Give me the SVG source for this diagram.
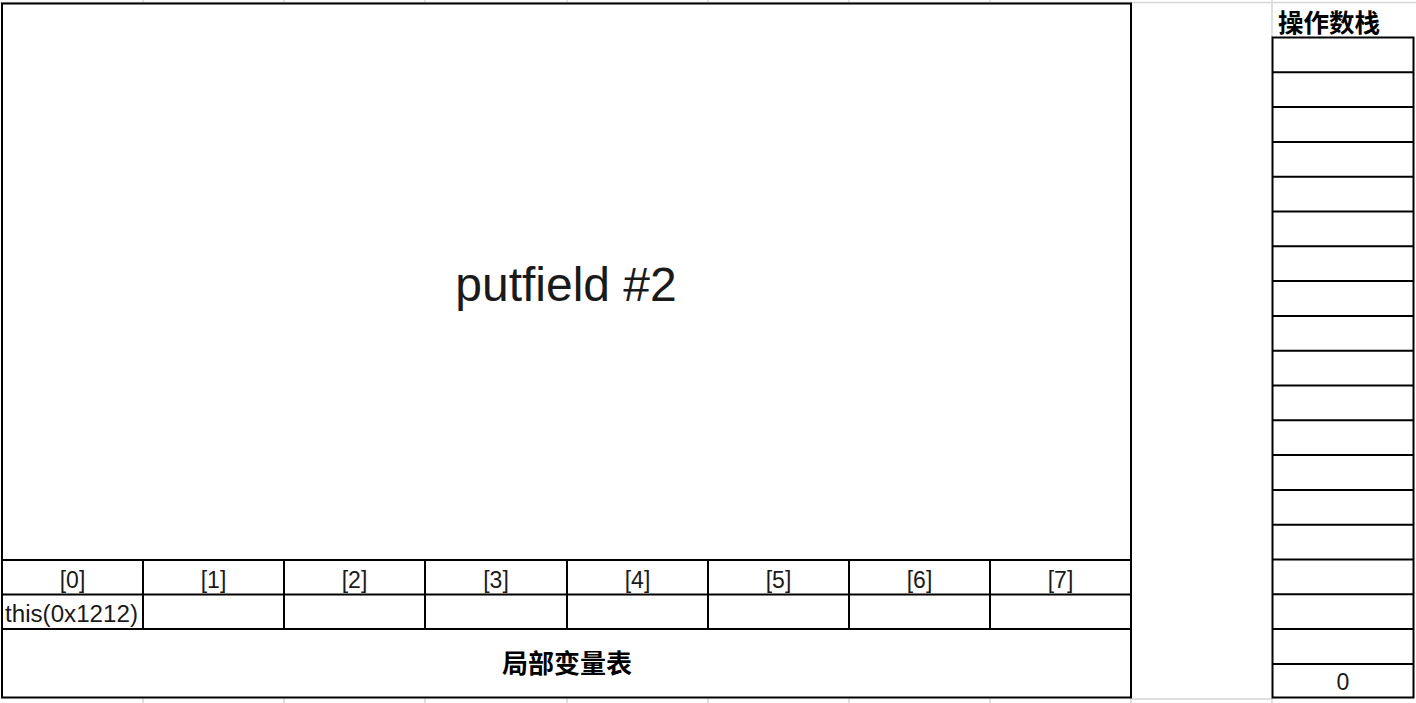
<svg xmlns="http://www.w3.org/2000/svg" width="1416" height="703" viewBox="0 0 1416 703">
<style>
.grid{stroke:#d6d6d6;stroke-width:1.5;fill:none}
.b{stroke:#000;stroke-width:2;fill:none}
.t{font-family:"Liberation Sans","Noto Sans CJK SC",sans-serif;fill:#1a1a1a}
.c{font-size:23px;text-anchor:middle}
.h{font-family:"Noto Sans CJK SC","Liberation Sans",sans-serif;font-weight:bold;fill:#000}
</style>
<rect width="1416" height="703" fill="#fff"/>
<g id="gridlines" class="grid">
<line x1="0" y1="2.5" x2="1416" y2="2.5"/>
<path d="M143 0V3M284 0V3M425 0V3M567 0V3M708 0V3M849 0V3M990 0V3M1272 0V37"/>
<path d="M143 698V703M284 698V703M425 698V703M567 698V703M708 698V703M849 698V703M990 698V703M1131 698V703M1272 698V703"/>
<line x1="1131" y1="699" x2="1272" y2="699"/>
</g>
<g id="frame-main">
<rect class="b" x="2" y="3.5" width="1129" height="694"/>
<text class="t" x="566" y="301" font-size="48" text-anchor="middle">putfield #2</text>
</g>
<g id="local-vars">
<path class="b" d="M2 560H1131M2 594.5H1131M2 629H1131M143 560V629M284 560V629M425 560V629M567 560V629M708 560V629M849 560V629M990 560V629"/>
<g class="t c">
<text x="72.5" y="588">[0]</text>
<text x="213.5" y="588">[1]</text>
<text x="354.5" y="588">[2]</text>
<text x="496" y="588">[3]</text>
<text x="637.5" y="588">[4]</text>
<text x="778.5" y="588">[5]</text>
<text x="919.5" y="588">[6]</text>
<text x="1060.5" y="588">[7]</text>
</g>
<text class="t" x="5" y="622" font-size="23" textLength="133" lengthAdjust="spacingAndGlyphs">this(0x1212)</text>
<text class="h" x="567" y="673" font-size="26" text-anchor="middle">局部变量表</text>
</g>
<g id="operand-stack">
<text class="h" x="1278" y="32" font-size="25.5">操作数栈</text>
<rect class="b" x="1272.5" y="37.5" width="141" height="660"/>
<path class="b" d="M1272.5 72.3H1413.5M1272.5 107.1H1413.5M1272.5 141.9H1413.5M1272.5 176.7H1413.5M1272.5 211.5H1413.5M1272.5 246.3H1413.5M1272.5 281.1H1413.5M1272.5 315.9H1413.5M1272.5 350.7H1413.5M1272.5 385.5H1413.5M1272.5 420.3H1413.5M1272.5 455.1H1413.5M1272.5 489.9H1413.5M1272.5 524.7H1413.5M1272.5 559.5H1413.5M1272.5 594.3H1413.5M1272.5 629.1H1413.5M1272.5 663.9H1413.5"/>
<text class="t c" x="1343" y="690" font-size="22">0</text>
</g>
</svg>
